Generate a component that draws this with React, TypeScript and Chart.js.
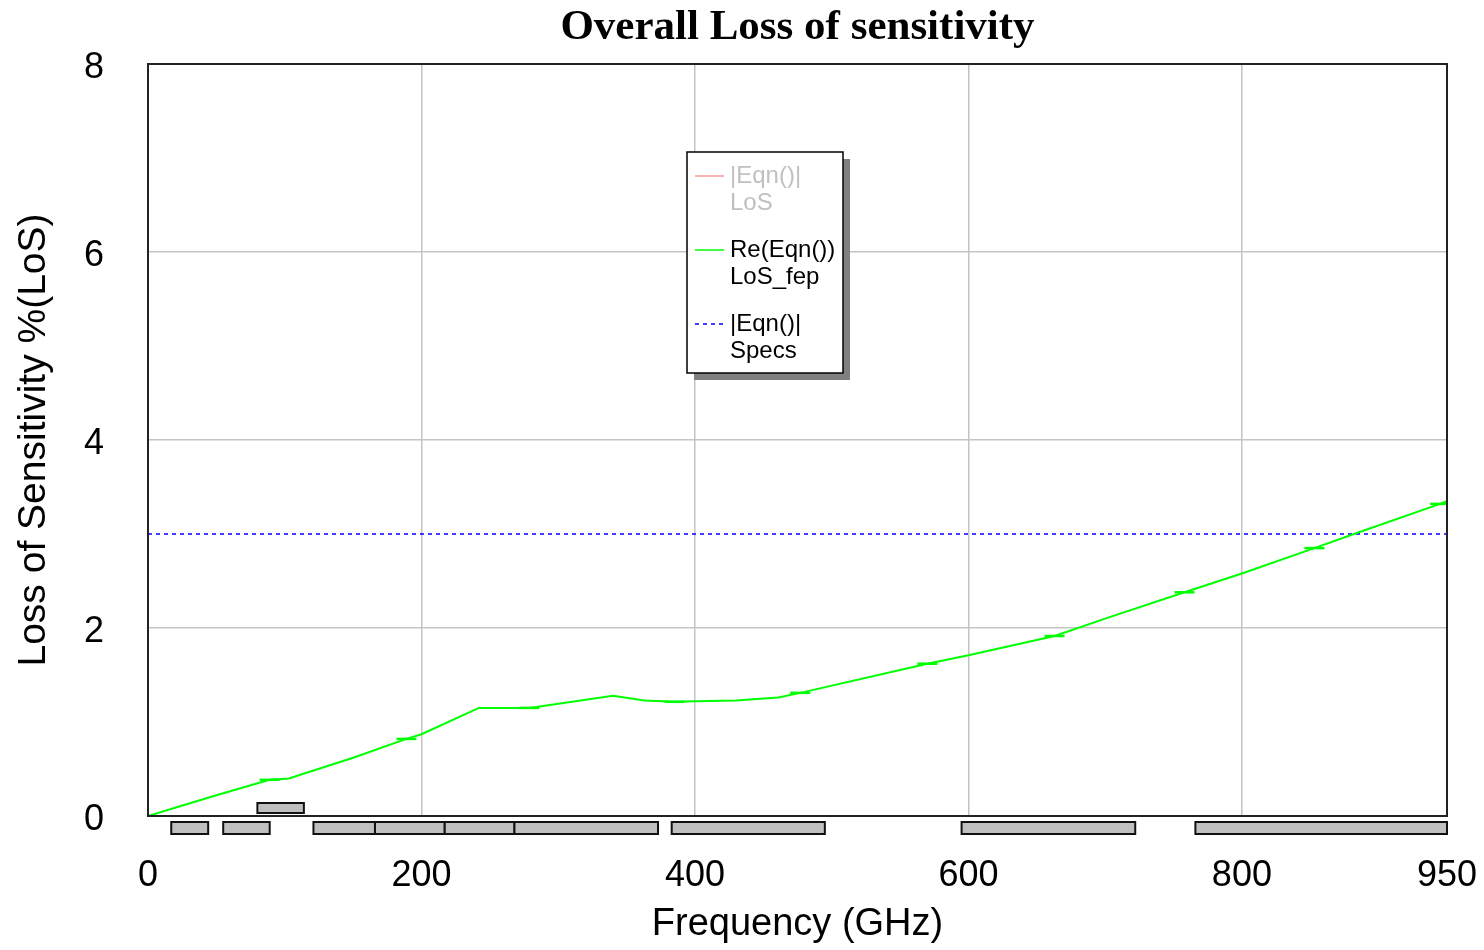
import React, { useEffect, useRef } from "react";
import { Chart, registerables } from "chart.js";

Chart.register(...registerables);

// ---- Text ----
const TITLE = "Overall Loss of sensitivity";
const X_TITLE = "Frequency (GHz)";
const Y_TITLE = "Loss of Sensitivity %(LoS)";

// ---- Axis ticks ----
const X_TICKS = [0, 200, 400, 600, 800, 950];
const Y_TICKS = [0, 2, 4, 6, 8];

// ---- Series: Re(Eqn()) LoS_fep ----
const FREQ_GHZ = [0, 27, 50, 89, 103, 150, 189, 200, 242, 279, 340, 363, 385, 400, 430, 461, 477, 570, 600, 663, 700, 758, 800, 853, 884, 945, 950];
const LOS_FEP = [0, 0.12, 0.22, 0.385, 0.4, 0.62, 0.82, 0.87, 1.15, 1.15, 1.28, 1.23, 1.215, 1.22, 1.23, 1.26, 1.31, 1.62, 1.71, 1.915, 2.1, 2.38, 2.58, 2.85, 3.01, 3.32, 3.35];
const MARKER_FREQ = [89, 189, 279, 385, 477, 570, 663, 758, 853, 945];

// ---- Series: |Eqn()| Specs ----
const SPEC_FREQ = [0, 950];
const SPEC_LIMIT = [3, 3];

// ---- Frequency bands (GHz) ----
const BAND_START = [17, 55, 80, 121, 166, 217, 268, 383, 595, 766];
const BAND_END = [44, 89, 114, 166, 217, 268, 373, 495, 722, 950];
const BAND_ROW = [0, 0, 1, 0, 0, 0, 0, 0, 0, 0];

const SANS = '"Liberation Sans", Arial, sans-serif';
const SERIF = '"Liberation Serif", "Times New Roman", serif';

const decorPlugin = {
  id: "decor",
  afterDatasetsDraw(chart: any) {
    const { ctx, chartArea: a, scales } = chart;
    const x = scales.x;
    const y = scales.y;
    ctx.save();
    // bands
    const base = y.getPixelForValue(0);
    BAND_START.forEach((s, i) => {
      const x0 = x.getPixelForValue(s);
      const x1 = x.getPixelForValue(BAND_END[i]);
      const top = BAND_ROW[i] === 0 ? base + 6 : base - 13;
      const h = BAND_ROW[i] === 0 ? 12 : 10;
      ctx.fillStyle = "#c0c0c0";
      ctx.fillRect(x0, top, x1 - x0, h);
      ctx.strokeStyle = "#111";
      ctx.lineWidth = 2;
      ctx.strokeRect(x0, top, x1 - x0, h);
    });
    // frame
    ctx.strokeStyle = "#222";
    ctx.lineWidth = 2;
    ctx.strokeRect(a.left, a.top, a.right - a.left, a.bottom - a.top);
    ctx.restore();
  },
  afterDraw(chart: any) {
    const { ctx, chartArea: a } = chart;
    ctx.save();
    // title
    ctx.font = `bold 43px ${SERIF}`;
    ctx.fillStyle = "#000";
    ctx.textAlign = "center";
    ctx.textBaseline = "alphabetic";
    ctx.fillText(TITLE, (a.left + a.right) / 2, 39);

    // legend
    const lx = 687, ly = 152, lw = 156, lh = 221;
    ctx.fillStyle = "#808080";
    ctx.fillRect(lx + 7, ly + 7, lw, lh);
    ctx.fillStyle = "#fff";
    ctx.fillRect(lx, ly, lw, lh);
    ctx.strokeStyle = "#000";
    ctx.lineWidth = 1.5;
    ctx.strokeRect(lx, ly, lw, lh);
    ctx.textAlign = "left";
    ctx.textBaseline = "middle";
    ctx.font = `24px ${SANS}`;
    chart.data.datasets.forEach((ds: any, i: number) => {
      const ey = ly + 24 + i * 74;
      ctx.strokeStyle = ds.borderColor;
      ctx.lineWidth = 1.5;
      ctx.setLineDash(ds.borderDash || []);
      ctx.beginPath();
      ctx.moveTo(lx + 8, ey);
      ctx.lineTo(lx + 37, ey);
      ctx.stroke();
      ctx.setLineDash([]);
      ctx.fillStyle = ds.hidden ? "#c0c0c0" : "#000";
      String(ds.label).split("\n").forEach((t: string, j: number) => {
        ctx.fillText(t, lx + 43, ey + j * 27);
      });
    });
    ctx.restore();
  },
};

export default function App() {
  const ref = useRef<HTMLCanvasElement | null>(null);
  useEffect(() => {
    if (!ref.current) return;
    const chart = new Chart(ref.current, {
      type: "line",
      data: {
        datasets: [
          {
            label: "|Eqn()|\nLoS",
            data: [],
            hidden: true,
            borderColor: "#ff9999",
            borderWidth: 1.5,
            pointRadius: 0,
          },
          {
            label: "Re(Eqn())\nLoS_fep",
            data: FREQ_GHZ.map((f, i) => ({ x: f, y: LOS_FEP[i] })),
            borderColor: "#00ff00",
            borderWidth: 2,
            tension: 0,
            pointStyle: "line",
            pointRadius: (c: any) => (c.raw && MARKER_FREQ.includes(c.raw.x) ? 10 : 0),
            pointBorderColor: "#00ff00",
            pointBorderWidth: 2.5,
          },
          {
            label: "|Eqn()|\nSpecs",
            data: SPEC_FREQ.map((f, i) => ({ x: f, y: SPEC_LIMIT[i] })),
            borderColor: "#0000ff",
            borderWidth: 1.5,
            borderDash: [4, 4],
            pointRadius: 0,
          },
        ] as any,
      },
      options: {
        animation: false,
        responsive: true,
        maintainAspectRatio: false,
        layout: { padding: { top: 64, right: 37, left: 0, bottom: 0 } },
        plugins: {
          legend: { display: false },
          tooltip: { enabled: false },
          title: { display: false },
        },
        scales: {
          x: {
            type: "linear",
            min: 0,
            max: 950,
            afterBuildTicks: (s: any) => {
              s.ticks = X_TICKS.map((v) => ({ value: v }));
            },
            afterFit: (s: any) => {
              s.height = 134;
              s.paddingLeft = 0;
              s.paddingRight = 0;
            },
            grid: { color: "#c4c4c4", lineWidth: 1.5, drawTicks: false },
            border: { display: false },
            ticks: {
              color: "#000",
              font: { family: SANS, size: 36 },
              padding: 38,
              maxRotation: 0,
              autoSkip: false,
            },
            title: {
              display: true,
              text: X_TITLE,
              color: "#000",
              font: { family: SANS, size: 38 },
              padding: { top: 0, bottom: 3 },
            },
          },
          y: {
            type: "linear",
            min: 0,
            max: 8,
            afterBuildTicks: (s: any) => {
              s.ticks = Y_TICKS.map((v) => ({ value: v }));
            },
            afterFit: (s: any) => {
              s.width = 148;
              s.paddingTop = 0;
              s.paddingBottom = 0;
            },
            grid: { color: "#c4c4c4", lineWidth: 1.5, drawTicks: false },
            border: { display: false },
            ticks: {
              color: "#000",
              font: { family: SANS, size: 36 },
              padding: 44,
              labelOffset: 4,
            },
            title: {
              display: true,
              text: Y_TITLE,
              color: "#000",
              font: { family: SANS, size: 39 },
              padding: { top: 11, bottom: 0 },
            },
          },
        },
      },
      plugins: [decorPlugin],
    } as any);
    return () => chart.destroy();
  }, []);
  return (
    <div style={{ position: "fixed", left: 0, top: 0, width: 1484, height: 950, background: "#fff" }}>
      <canvas ref={ref} />
    </div>
  );
}
